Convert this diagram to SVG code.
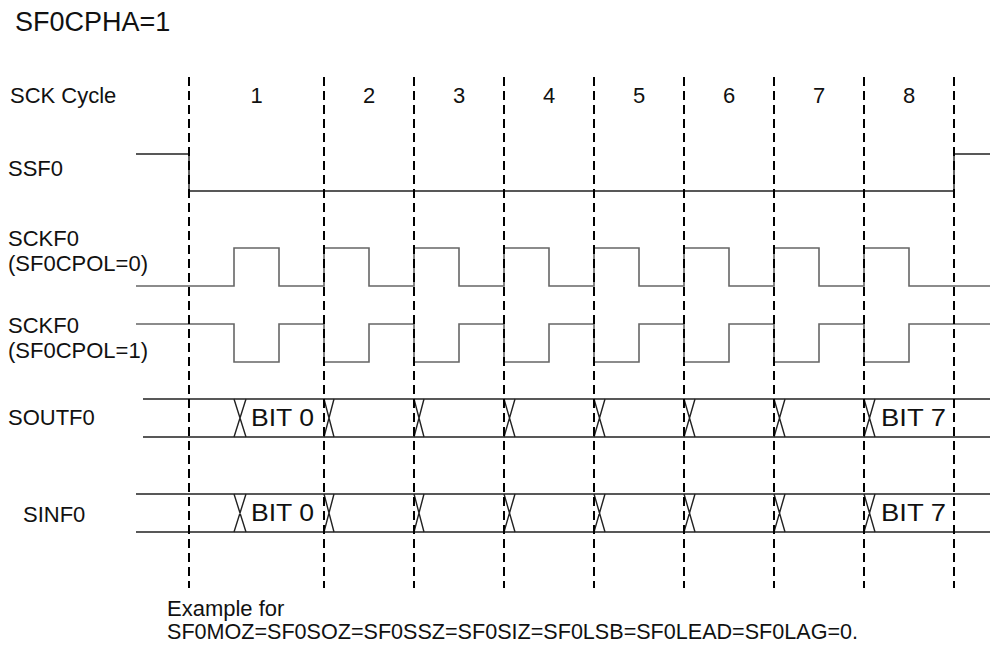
<svg xmlns="http://www.w3.org/2000/svg" width="990" height="646" viewBox="0 0 990 646">
<style>
text { font-family: "Liberation Sans", Arial, sans-serif; fill: #111; }
.lbl { font-size: 22px; }
.bit { font-size: 24px; }
.num { font-size: 22px; text-anchor: middle; }
.title { font-size: 27px; }
.grid line { stroke: #000; stroke-width: 2; stroke-dasharray: 9 5; }
.sig { fill: none; stroke: #222; stroke-width: 1.4; }
.clk { fill: none; stroke: #666; stroke-width: 1.6; }
</style>
<rect width="990" height="646" fill="#fff"/>
<text class="title" x="15" y="31">SF0CPHA=1</text>

<g id="labels">
<text class="lbl" x="10" y="103">SCK Cycle</text>
<text class="lbl" x="8" y="176">SSF0</text>
<text class="lbl" x="8" y="246">SCKF0</text>
<text class="lbl" x="8" y="271">(SF0CPOL=0)</text>
<text class="lbl" x="8" y="333">SCKF0</text>
<text class="lbl" x="8" y="358">(SF0CPOL=1)</text>
<text class="lbl" x="8" y="425">SOUTF0</text>
<text class="lbl" x="23" y="522">SINF0</text>
</g>

<g id="cycles">
<text class="num" x="256.5" y="103">1</text>
<text class="num" x="369" y="103">2</text>
<text class="num" x="459" y="103">3</text>
<text class="num" x="549" y="103">4</text>
<text class="num" x="639" y="103">5</text>
<text class="num" x="729" y="103">6</text>
<text class="num" x="819" y="103">7</text>
<text class="num" x="909" y="103">8</text>
</g>

<g id="ssf0">
<path class="sig" d="M136,154 H189 V191 H954 V154 H990"/>
</g>

<g id="sckf0-pol0">
<path class="clk" d="M136,286 H234 V248 H279 V286 H324 V248 H369 V286 H414 V248 H459 V286 H504 V248 H549 V286 H594 V248 H639 V286 H684 V248 H729 V286 H774 V248 H819 V286 H864 V248 H909 V286 H990"/>
</g>

<g id="sckf0-pol1">
<path class="clk" d="M136,324 H234 V362 H279 V324 H324 V362 H369 V324 H414 V362 H459 V324 H504 V362 H549 V324 H594 V362 H639 V324 H684 V362 H729 V324 H774 V362 H819 V324 H864 V362 H909 V324 H990"/>
</g>

<g id="soutf0">
<path class="sig" d="M143,399 H990 M143,437 H990"/>
<path class="sig" stroke-width="1" d="M234,399 L246,437 M246,399 L234,437 M324,399 L334,437 M334,399 L324,437 M414,399 L424,437 M424,399 L414,437 M504,399 L515,437 M515,399 L504,437 M594,399 L605,437 M605,399 L594,437 M684,399 L695,437 M695,399 L684,437 M774,399 L785,437 M785,399 L774,437 M864,399 L875,437 M875,399 L864,437"/>
<text class="bit" x="251" y="426" textLength="63" lengthAdjust="spacingAndGlyphs">BIT 0</text>
<text class="bit" x="881" y="426" textLength="65" lengthAdjust="spacingAndGlyphs">BIT 7</text>
</g>

<g id="sinf0">
<path class="sig" d="M136,494 H990 M136,532 H990"/>
<path class="sig" stroke-width="1" d="M234,494 L246,532 M246,494 L234,532 M324,494 L334,532 M334,494 L324,532 M414,494 L424,532 M424,494 L414,532 M504,494 L515,532 M515,494 L504,532 M594,494 L605,532 M605,494 L594,532 M684,494 L695,532 M695,494 L684,532 M774,494 L785,532 M785,494 L774,532 M864,494 L875,532 M875,494 L864,532"/>
<text class="bit" x="251" y="521" textLength="63" lengthAdjust="spacingAndGlyphs">BIT 0</text>
<text class="bit" x="881" y="521" textLength="65" lengthAdjust="spacingAndGlyphs">BIT 7</text>
</g>

<g id="connectors" class="grid">
<line x1="189" y1="77" x2="189" y2="588"/>
<line x1="324" y1="77" x2="324" y2="588"/>
<line x1="414" y1="77" x2="414" y2="588"/>
<line x1="504" y1="77" x2="504" y2="588"/>
<line x1="594" y1="77" x2="594" y2="588"/>
<line x1="684" y1="77" x2="684" y2="588"/>
<line x1="774" y1="77" x2="774" y2="588"/>
<line x1="864" y1="77" x2="864" y2="588"/>
<line x1="954" y1="77" x2="954" y2="588"/>
</g>

<g id="note">
<text class="lbl" x="167" y="616">Example for</text>
<text class="lbl" x="167" y="639" textLength="691" lengthAdjust="spacingAndGlyphs">SF0MOZ=SF0SOZ=SF0SSZ=SF0SIZ=SF0LSB=SF0LEAD=SF0LAG=0.</text>
</g>
</svg>
